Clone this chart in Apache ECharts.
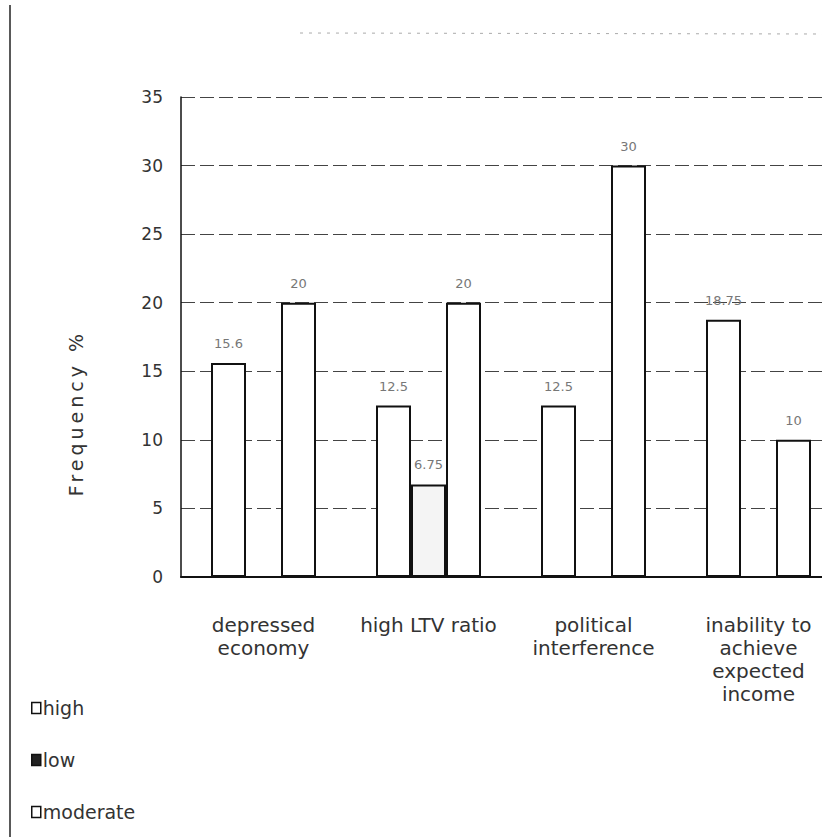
<!DOCTYPE html>
<html>
<head>
<meta charset="utf-8">
<script src="https://cdn.jsdelivr.net/npm/echarts@6/dist/echarts.min.js"></script>
<style>
html,body{margin:0;padding:0;background:#fff;}
#chart{width:822px;height:837px;}
</style>
</head>
<body>
<div id="chart"></div>
<script>
var categories = ['depressed\neconomy', 'high LTV ratio', 'political\ninterference', 'inability to\nachieve\nexpected\nincome'];
var seriesNames = ['high', 'low', 'moderate'];
var highValues = [15.6, 12.5, 12.5, 18.75];
var lowValues = [null, 6.75, null, null];
var moderateValues = [20, 20, 30, 10];
var yTicks = {min: 0, max: 35, interval: 5};
var yAxisTitle = 'Frequency %';

var chart = echarts.init(document.getElementById('chart'), null, {renderer: 'svg'});
var font = 'DejaVu Sans, Verdana, sans-serif';

function barSeries(name, data, fill) {
  return {
    name: name,
    type: 'bar',
    data: data,
    barWidth: 35,
    barGap: '0%',
    itemStyle: {color: fill, borderColor: '#111', borderWidth: 2},
    label: {
      show: true, position: 'top', distance: 13,
      color: '#777', fontSize: 13, fontFamily: font
    }
  };
}

chart.setOption({
  backgroundColor: '#fff',
  animation: false,
  grid: {left: 181, top: 97, width: 660, height: 480, containLabel: false, outerBoundsMode: 'none'},
  legend: {
    orient: 'vertical', left: 26, top: 693,
    itemWidth: 9, itemHeight: 11, itemGap: 32,
    icon: 'rect',
    textStyle: {fontSize: 19, lineHeight: 20, color: '#333', fontFamily: font, padding: [0, 0, 0, -3]},
    data: [
      {name: 'high', itemStyle: {color: '#fff', borderColor: '#111', borderWidth: 1.5}},
      {name: 'low', itemStyle: {color: '#222', borderColor: '#111', borderWidth: 1.5}},
      {name: 'moderate', itemStyle: {color: '#fff', borderColor: '#111', borderWidth: 1.5}}
    ]
  },
  xAxis: {
    type: 'category',
    data: categories,
    axisLine: {lineStyle: {color: '#111', width: 2}},
    axisTick: {show: false},
    axisLabel: {interval: 0, margin: 36, fontSize: 20, lineHeight: 23, color: '#333', fontFamily: font}
  },
  yAxis: {
    type: 'value',
    min: yTicks.min, max: yTicks.max, interval: yTicks.interval,
    axisLine: {show: true, lineStyle: {color: '#111', width: 1.5}},
    axisTick: {show: false},
    axisLabel: {margin: 18, fontSize: 17, color: '#333', fontFamily: font},
    splitLine: {show: true, lineStyle: {color: '#444', width: 1, type: [14, 5]}}
  },
  series: [
    barSeries(seriesNames[0], highValues, '#fff'),
    barSeries(seriesNames[1], lowValues, '#f4f4f4'),
    barSeries(seriesNames[2], moderateValues, '#fff')
  ],
  graphic: [
    {type: 'text', x: 76, y: 413, rotation: Math.PI / 2,
     style: {text: yAxisTitle, fill: '#333', font: '19px ' + font, align: 'center', verticalAlign: 'middle'}},
    {type: 'line', shape: {x1: 10, y1: 5, x2: 10, y2: 837}, style: {stroke: '#222', lineWidth: 1.5}},
    {type: 'line', shape: {x1: 300, y1: 33, x2: 822, y2: 34}, style: {stroke: '#aaa', lineWidth: 1, lineDash: [3, 6]}}
  ]
});

// widen the letter spacing of the rotated axis title, as in the scan
Array.prototype.forEach.call(document.querySelectorAll('#chart text'), function (t) {
  if (t.textContent === yAxisTitle) { t.style.letterSpacing = '4px'; }
});
</script>
</body>
</html>
